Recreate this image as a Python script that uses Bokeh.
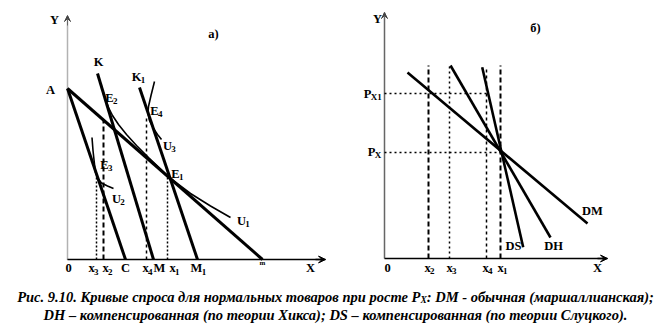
from bokeh.plotting import figure
from bokeh.models import Range1d, Arrow, VeeHead, Div
from bokeh.layouts import column, row
from bokeh.embed import file_html
from bokeh.resources import INLINE
from bokeh.core.properties import value

FONT = "Liberation Serif"

# ---------------- Panel a (quantity X, quantity Y) ----------------
budget_names = ["Am", "AC", "KM", "K1M1"]
budget_x = [[0.0, 19.5], [0.0, 5.8], [3.0, 8.6], [7.2, 13.0]]
budget_y = [[17.1, 0.0], [17.1, 0.0], [18.6, 0.0], [17.2, 0.0]]

u1_x = [3.6, 3.8, 4.1, 4.5, 5.1, 5.9, 6.9, 8.1, 9.1, 10.1, 12.3, 14.3, 16.3]
u1_y = [16.7, 16.0, 15.2, 14.4, 13.5, 12.5, 11.4, 10.2, 9.25, 8.27, 6.6, 5.35, 4.2]
u2_x = [2.45, 2.55, 2.68, 2.8, 3.05, 3.4, 4.0, 4.6]
u2_y = [12.2, 10.9, 9.7, 8.7, 8.1, 7.65, 7.35, 7.1]
u3_x = [8.7, 8.35, 8.1, 8.05, 8.2, 8.6, 9.0, 9.4]
u3_y = [17.8, 16.4, 15.3, 14.7, 13.9, 13.1, 12.5, 12.0]

a_drop_x = [2.9, 3.6, 7.9, 10.0]          # x3, x2, x4, x1
a_drop_top = [8.4, 13.9, 14.3, 8.2]
a_drop_dash = ["2 2", "5 3", "3 3", "2 2"]
a_drop_width = [1.5, 2.0, 1.5, 1.5]

a_labels = ["Y", "а)", "K", "K", "A", "E", "E", "U", "E", "E", "U", "U"]
a_subs = ["", "", "", "1", "", "2", "4", "3", "1", "3", "2", "1"]
a_lab_x = [-1.3, 14.6, 3.1, 6.9, -1.7, 4.2, 8.7, 10.0, 10.8, 3.7, 4.9, 17.4]
a_lab_y = [24.0, 22.6, 19.8, 18.3, 17.0, 16.2, 14.9, 11.4, 8.6, 9.5, 6.1, 3.9]

a_ticks = ["0", "x", "x", "C", "x", "M", "x", "M", "X"]
a_tick_subs = ["", "3", "2", "", "4", "", "1", "1", ""]
a_tick_x = [0.1, 2.4, 3.8, 5.8, 7.8, 9.2, 10.5, 12.9, 24.3]

# ---------------- Panel b (quantity X, price) ----------------
demand_names = ["DM", "DH", "DS"]
demand_x = [[2.3, 20.3], [6.6, 16.6], [9.77, 13.87]]
demand_y = [[18.6, 3.5], [19.3, 2.1], [19.13, 1.13]]

b_drop_x = [4.4, 6.5, 10.2, 11.6]          # x2, x3, x4, x1
b_drop_top = [19.3, 19.3, 19.1, 19.3]
b_drop_dash = ["5 3", "2 3", "3 3", "5 3"]
b_drop_width = [2.0, 1.5, 1.5, 2.0]

price_levels = [16.5, 10.6]                # Px1, Px
price_ends = [10.3, 11.6]

b_labels = ["Y", "б)", "DM", "DH", "DS", "P", "P"]
b_subs = ["", "", "", "", "", "X1", "X"]
b_lab_x = [-0.7, 15.1, 20.8, 16.9, 12.9, -1.7, -1.3]
b_lab_y = [24.0, 23.1, 4.8, 1.3, 1.3, 16.5, 10.7]

b_ticks = ["0", "x", "x", "x", "x", "X"]
b_tick_subs = ["", "2", "3", "4", "1", ""]
b_tick_x = [0.3, 4.3, 6.5, 10.1, 11.6, 21.3]

# approximate widths (px) of bold 12px glyphs, to place subscripts
WIDTH = {"E": 8.0, "K": 9.3, "U": 8.7, "M": 11.3, "x": 6.0, "P": 7.3}


def base_fig(w, h, xr, yr):
    p = figure(width=w, height=h, x_range=Range1d(*xr), y_range=Range1d(*yr),
               toolbar_location=None, output_backend="svg",
               x_axis_location=None, y_axis_location=None, min_border=0,
               background_fill_color="white", border_fill_color="white")
    p.grid.visible = False
    p.outline_line_color = None
    return p


def axes(p, ytop, xend, ystyle):
    p.line([0, 0], [0, ytop], line_color="#666666", line_width=1.5, line_dash=ystyle)
    p.add_layout(Arrow(end=VeeHead(size=6, line_color="#444444", fill_color="#444444", line_width=1),
                       x_start=0, y_start=ytop - 1.0, x_end=0, y_end=ytop,
                       line_color="#666666", line_width=1))
    p.line([0, xend], [0, 0], line_color="black", line_width=1.5)
    p.add_layout(Arrow(end=VeeHead(size=7, line_color="black", fill_color="black", line_width=1),
                       x_start=xend - 1.0, y_start=0, x_end=xend, y_end=0,
                       line_color="black", line_width=1.5))


def labels(p, mains, subs, xs, ys):
    p.text(x=xs, y=ys, text=mains, text_font=value(FONT), text_font_style="bold",
           text_font_size="12.5px", text_align="center", text_baseline="middle",
           text_color="black")
    sx, sy, st, so = [], [], [], []
    for m, s, x, y in zip(mains, subs, xs, ys):
        if s:
            sx.append(x)
            sy.append(y)
            st.append(s)
            so.append(WIDTH.get(m, 8.0) / 2 - 0.5)
    if st:
        p.text(x=sx, y=sy, text=st, x_offset=so, y_offset=3.5, text_font=value(FONT),
               text_font_style="bold", text_font_size="9px", text_align="left",
               text_baseline="middle", text_color="black")


# Panel a
pa = base_fig(335, 280, (-6.7, 26.8), (-2.1, 25.9))
axes(pa, 24.4, 25.8, "1 1")
for bx, by in zip(budget_x, budget_y):
    pa.line(bx, by, line_color="black", line_width=3)
pa.line(u1_x, u1_y, line_color="black", line_width=1.6)
pa.line(u2_x, u2_y, line_color="black", line_width=1.6)
pa.line(u3_x, u3_y, line_color="black", line_width=1.6)
for dx, dt, dd, dw in zip(a_drop_x, a_drop_top, a_drop_dash, a_drop_width):
    pa.line([dx, dx], [0, dt], line_color="black", line_width=dw, line_dash=dd)
labels(pa, a_labels, a_subs, a_lab_x, a_lab_y)
labels(pa, a_ticks, a_tick_subs, a_tick_x, [-0.85] * len(a_ticks))
pa.text(x=[19.5], y=[-0.35], text=["m"], text_font=value(FONT), text_font_style="bold",
        text_font_size="7px", text_align="center", text_baseline="middle")

# Panel b
pb = base_fig(336, 280, (-4.9, 28.7), (-2.2, 25.8))
axes(pb, 24.6, 22.3, "solid")
for dx, dy in zip(demand_x, demand_y):
    pb.line(dx, dy, line_color="black", line_width=2.6)
for dx, dt, dd, dw in zip(b_drop_x, b_drop_top, b_drop_dash, b_drop_width):
    pb.line([dx, dx], [0, dt], line_color="black", line_width=dw, line_dash=dd)
for lvl, end in zip(price_levels, price_ends):
    pb.line([0, end], [lvl, lvl], line_color="black", line_width=1.3, line_dash="2 3")
labels(pb, b_labels, b_subs, b_lab_x, b_lab_y)
labels(pb, b_ticks, b_tick_subs, b_tick_x, [-0.9] * len(b_ticks))

caption = Div(
    text=("Рис. 9.10. Кривые спроса для нормальных товаров при росте "
          "P<span style='font-size:9.5px;position:relative;top:1px;line-height:0'>X</span>: "
          "DM - обычная (маршаллианская);<br>"
          "DH – компенсированная (по теории Хикса); DS – компенсированная (по теории Слуцкого)."),
    width=671, height=55, margin=0,
    styles={"font-family": "'Liberation Serif', 'Times New Roman', serif", "font-style": "italic",
            "font-weight": "bold", "font-size": "14.5px", "text-align": "center",
            "line-height": "17.5px", "padding-top": "9px", "width": "671px"})

layout = column(row(pa, pb, spacing=0), caption, spacing=0)
open("out.html", "w").write(file_html(layout, INLINE))
